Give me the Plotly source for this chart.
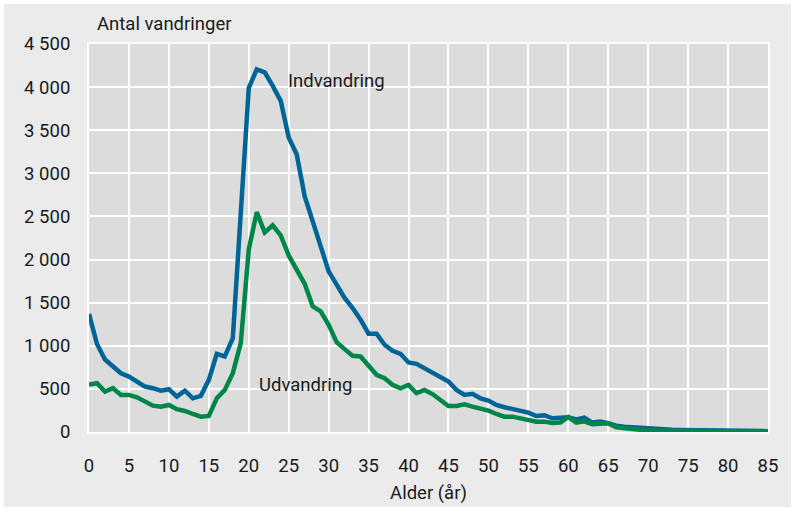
import plotly.graph_objects as go

ages = list(range(0, 86))

indvandring = [1370, 1020, 840, 760, 682, 643, 585, 527, 508, 480,
               496, 411, 480, 391, 419, 605, 907, 876, 1089, 2500,
               3990, 4205, 4170, 4015, 3841, 3415, 3221, 2736, 2455, 2136,
               1864, 1709, 1554, 1438, 1302, 1140, 1140, 1012, 942, 907,
               806, 791, 740, 701, 636, 585, 488, 430, 442, 391,
               364, 314, 287, 264, 236, 225, 186, 194, 159, 167,
               171, 147, 167, 109, 120, 101, 74, 62, 54, 47,
               43, 39, 27, 25, 24, 22, 20, 19, 18, 16,
               15, 14, 13, 12, 11, 10]

udvandring = [550, 566, 469, 508, 430, 430, 403, 352, 306, 294,
              314, 264, 244, 209, 178, 186, 391, 488, 682, 1031,
              2116, 2550, 2314, 2397, 2281, 2048, 1884, 1719, 1457, 1399,
              1244, 1043, 961, 884, 876, 767, 663, 624, 547, 508,
              547, 450, 488, 440, 372, 302, 302, 322, 294, 271,
              248, 209, 178, 178, 155, 131, 120, 120, 105, 109,
              175, 109, 124, 89, 89, 101, 54, 43, 35, 27,
              16, 15, 14, 13, 12, 12, 11, 11, 10, 10,
              9, 9, 8, 8, 8, 7]

x_ticks = list(range(0, 90, 5))
y_ticks = list(range(0, 5000, 500))
y_ticktext = ["0", "500", "1 000", "1 500", "2 000", "2 500", "3 000", "3 500", "4 000", "4 500"]

FONT = "Roboto, sans-serif"
FS = 18.5
BLUE = "#006596"
GREEN = "#008748"

# page has a 4px white frame; figure sits inside it
W, H = 787, 503
L, R, T, B = 85, 23, 40, 75
PW = W - L - R
PH = H - T - B

fig = go.Figure()
fig.add_trace(go.Scatter(x=ages, y=indvandring, mode="lines",
                         line=dict(color=BLUE, width=4.5), name="Indvandring"))
fig.add_trace(go.Scatter(x=ages, y=udvandring, mode="lines",
                         line=dict(color=GREEN, width=4.5), name="Udvandring"))

fig.update_layout(
    width=W, height=H,
    margin=dict(l=L, r=R, t=T, b=B, pad=0),
    paper_bgcolor="#ebebeb",
    plot_bgcolor="#dcdcdc",
    showlegend=False,
    font=dict(family=FONT, size=FS, color="#1a1a1a"),
    xaxis=dict(range=[0, 85], tickvals=x_ticks, showgrid=True, gridcolor="white",
               gridwidth=2, zeroline=False, showline=True, linecolor="white",
               linewidth=2, mirror=True, ticks="", ticklabelstandoff=16,
               automargin=False,
               title=dict(text="Alder (år)", standoff=10, font=dict(size=FS))),
    yaxis=dict(range=[0, 4500], tickvals=y_ticks, ticktext=y_ticktext, showgrid=True,
               gridcolor="white", gridwidth=2, zeroline=False, showline=True,
               linecolor="white", linewidth=2, mirror=True, ticks="",
               ticklabelstandoff=13, automargin=False),
    annotations=[
        dict(text="Antal vandringer", xref="paper", yref="paper", x=(95 - 89) / PW,
             y=1 + (44 - 24) / PH, xanchor="left", yanchor="middle", showarrow=False,
             font=dict(size=FS)),
        dict(text="Indvandring", x=24.6, y=4070, xanchor="left", yanchor="middle",
             showarrow=False, font=dict(size=FS)),
        dict(text="Udvandring", x=21.0, y=550, xanchor="left", yanchor="middle",
             showarrow=False, font=dict(size=FS)),
    ],
)

fig.write_html("out.html",
               post_script="document.body.style.margin='4px';document.body.style.background='#ffffff';")
